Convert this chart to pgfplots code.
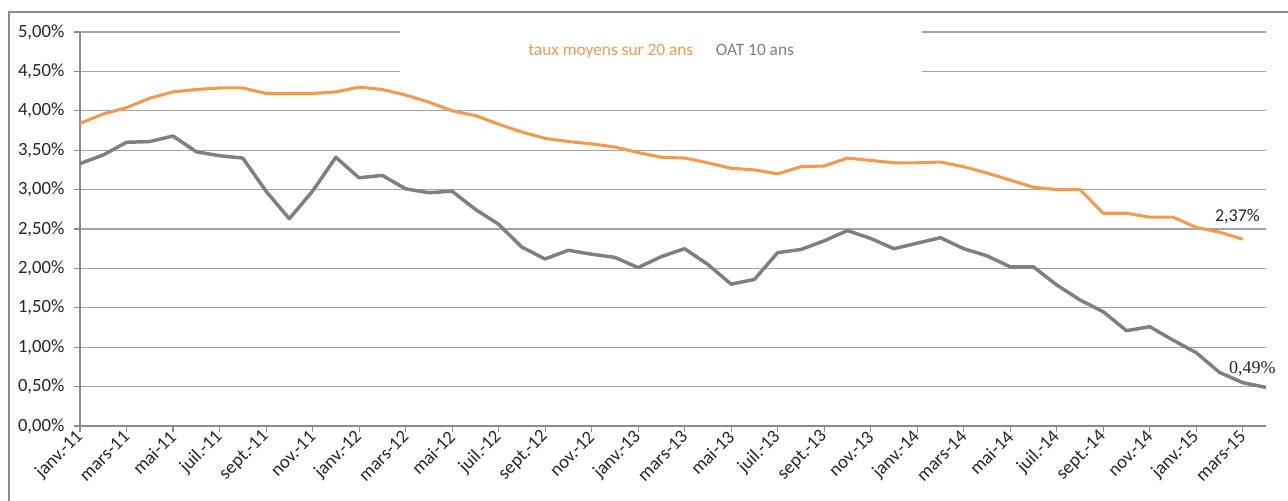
\documentclass[border=0pt]{standalone}
\usepackage{pgfplots}
\pgfplotsset{compat=1.18}
\usepackage{fontspec}
\setmainfont{Carlito}
\newfontfamily\serifL{Liberation Serif}
\definecolor{orangeL}{HTML}{F39A4E}
\definecolor{grayL}{HTML}{7F7F7F}
\definecolor{gridc}{HTML}{A3A3A3}
\definecolor{axisc}{HTML}{8C8C8C}
\definecolor{labc}{HTML}{262626}

\begin{document}
\begin{tikzpicture}
\useasboundingbox (0pt,0pt) rectangle (966pt,375pt);
\begin{scope}
\clip (0pt,0pt) rectangle (966pt,375pt);
\draw[color=axisc, line width=0.9pt] (6.75pt,-15pt) -- (6.75pt,366pt) -- (980pt,366pt);
\end{scope}
\begin{axis}[
  at={(60pt,55.5pt)}, anchor=south west,
  scale only axis, width=889.5pt, height=295.5pt,
  xmin=0, xmax=51, ymin=0, ymax=5,
  clip=false,
  axis lines*=left,
  axis line style={draw=axisc, line width=0.8pt},
  tick align=outside, major tick length=4.5pt,
  tick style={draw=axisc, line width=0.8pt},
  ymajorgrids, grid style={draw=gridc, line width=0.8pt},
  ytick={0,0.5,1,1.5,2,2.5,3,3.5,4,4.5,5},
  yticklabels={{0,00\%},{0,50\%},{1,00\%},{1,50\%},{2,00\%},{2,50\%},{3,00\%},{3,50\%},{4,00\%},{4,50\%},{5,00\%}},
  xtick={0,2,...,50},
  xticklabels={janv.-11,mars-11,mai-11,juil.-11,sept.-11,nov.-11,janv.-12,mars-12,mai-12,juil.-12,sept.-12,nov.-12,janv.-13,mars-13,mai-13,juil.-13,sept.-13,nov.-13,janv.-14,mars-14,mai-14,juil.-14,sept.-14,nov.-14,janv.-15,mars-15},
  ticklabel style={font=\fontsize{14}{16}\selectfont, text=labc},
  x tick label style={rotate=45, anchor=east, inner sep=1pt, yshift=-1pt},
  y tick label style={inner sep=2pt, xshift=-5pt},
  legend columns=2,
  legend image code/.code={},
  legend style={draw=none, fill=none, at={(0.49,0.953)}, anchor=center,
    font=\fontsize{13}{15}\selectfont,
    /tikz/column 2/.style={column sep=13pt}},
]
\fill[white] (axis cs:13.76,4.35) rectangle (axis cs:36.2,5.08);
\addplot[orangeL, line width=2.3pt, line join=round] coordinates {
(0,3.84) (1,3.96) (2,4.04) (3,4.16) (4,4.24) (5,4.27) (6,4.29) (7,4.29) (8,4.22) (9,4.22)
(10,4.22) (11,4.24) (12,4.30) (13,4.27) (14,4.20) (15,4.11) (16,4.00) (17,3.94) (18,3.83) (19,3.73)
(20,3.65) (21,3.61) (22,3.58) (23,3.54) (24,3.47) (25,3.41) (26,3.40) (27,3.34) (28,3.27) (29,3.25)
(30,3.20) (31,3.29) (32,3.30) (33,3.40) (34,3.37) (35,3.34) (36,3.34) (37,3.35) (38,3.29) (39,3.21)
(40,3.12) (41,3.03) (42,3.00) (43,3.00) (44,2.70) (45,2.70) (46,2.65) (47,2.65) (48,2.52) (49,2.46)
(50,2.37)};
\addlegendentry{\textcolor{orangeL}{taux moyens sur 20 ans}}
\addplot[grayL, line width=2.6pt, line join=round] coordinates {
(0,3.33) (1,3.44) (2,3.60) (3,3.61) (4,3.68) (5,3.48) (6,3.43) (7,3.40) (8,2.98) (9,2.63)
(10,2.98) (11,3.41) (12,3.15) (13,3.18) (14,3.01) (15,2.96) (16,2.98) (17,2.75) (18,2.56) (19,2.27)
(20,2.12) (21,2.23) (22,2.18) (23,2.14) (24,2.01) (25,2.15) (26,2.25) (27,2.05) (28,1.80) (29,1.86)
(30,2.20) (31,2.24) (32,2.35) (33,2.48) (34,2.38) (35,2.25) (36,2.32) (37,2.39) (38,2.25) (39,2.16)
(40,2.02) (41,2.02) (42,1.79) (43,1.60) (44,1.45) (45,1.21) (46,1.26) (47,1.09) (48,0.93) (49,0.68)
(50,0.55) (51,0.49)};
\addlegendentry{\textcolor{grayL}{OAT 10 ans}}
\node[font=\fontsize{13.5}{15}\selectfont, text=labc] at (axis cs:49.77,2.66) {2,37\%};
\node[font=\serifL\fontsize{13.5}{15}\selectfont, text=labc, anchor=west, inner sep=0pt] at (axis cs:49.4,0.73) {0,49\%};
\end{axis}
\end{tikzpicture}
\end{document}
